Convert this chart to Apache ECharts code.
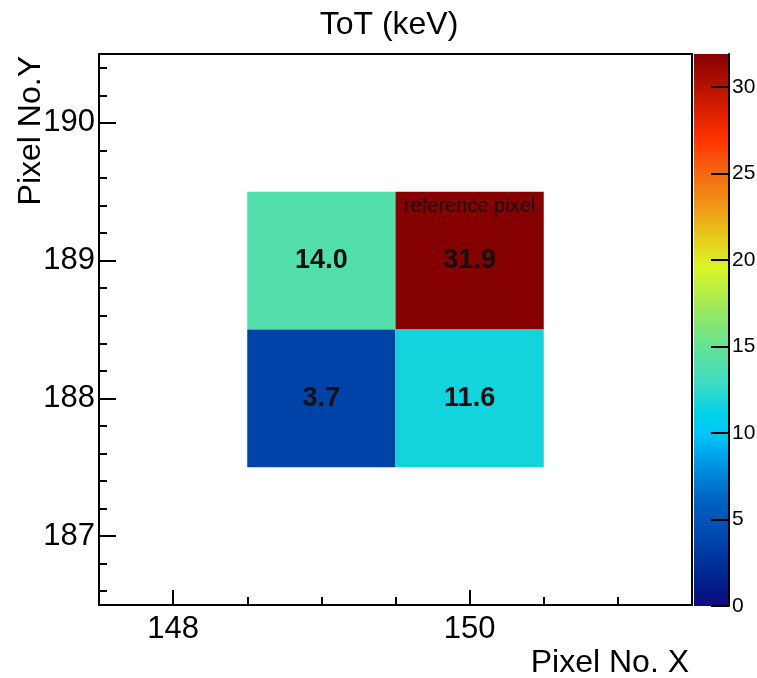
<!DOCTYPE html>
<html>
<head>
<meta charset="utf-8">
<title>ToT (keV)</title>
<script src="https://cdn.jsdelivr.net/npm/echarts@6/dist/echarts.min.js"></script>
<style>
  html, body { margin: 0; padding: 0; background: #ffffff; }
  #chart { width: 757px; height: 678px; }
</style>
</head>
<body>
<div id="chart"></div>
<script>
// Pixel centres (column, row) and the ToT measured in each, in keV
const pixelX = [149, 150, 149, 150];
const pixelY = [189, 189, 188, 188];
const totKeV = [14.0, 31.9, 3.7, 11.6];

// The pixel marked as reference
const referencePixel = [150, 189];
const referenceLabel = 'reference pixel';

// Axis ranges and tick positions
const xRange = [147.5, 151.5];
const yRange = [186.5, 190.5];
const xMajorTicks = [148, 150];
const xMinorTicks = [148.5, 149, 149.5, 150.5, 151];
const yMajorTicks = [187, 188, 189, 190];
const yMinorTicks = [186.6, 186.8, 187.2, 187.4, 187.6, 187.8,
                     188.2, 188.4, 188.6, 188.8, 189.2, 189.4,
                     189.6, 189.8, 190.2, 190.4];

// Colour scale range and its ticks
const zRange = [0, 31.9];
const zTicks = [0, 5, 10, 15, 20, 25, 30];

// Palette: value -> colour stops along the colour scale
const paletteValues = [0, 1.5, 4, 6, 8, 10, 11, 13, 15, 17, 19.5, 21, 23, 25, 27, 29, 31.9];
const paletteColors = ['#0c0c7c', '#00228e', '#0048ac', '#0060c2', '#0090e0', '#00c8fa',
                       '#00d0ea', '#40dcc0', '#64e296', '#98e860', '#d8f528', '#e6d21e',
                       '#ee9a18', '#f46812', '#ff3300', '#d01c00', '#850000'];

const FONT = '"Liberation Sans", Arial, Helvetica, sans-serif';

function hexToRgb(h) {
  return [parseInt(h.slice(1, 3), 16), parseInt(h.slice(3, 5), 16), parseInt(h.slice(5, 7), 16)];
}
function colorAt(v) {
  if (v <= paletteValues[0]) return paletteColors[0];
  const n = paletteValues.length;
  if (v >= paletteValues[n - 1]) return paletteColors[n - 1];
  for (let i = 0; i < n - 1; i++) {
    const a = paletteValues[i], b = paletteValues[i + 1];
    if (v >= a && v <= b) {
      const t = (v - a) / (b - a);
      const ca = hexToRgb(paletteColors[i]), cb = hexToRgb(paletteColors[i + 1]);
      const c = ca.map((x, k) => Math.round(x + (cb[k] - x) * t));
      return 'rgb(' + c.join(',') + ')';
    }
  }
  return paletteColors[n - 1];
}

const cells = pixelX.map((x, i) => [x, pixelY[i], totKeV[i]]);

const colorStops = paletteValues.map((v, i) => ({
  offset: (v - zRange[0]) / (zRange[1] - zRange[0]),
  color: paletteColors[i]
}));

const chart = echarts.init(document.getElementById('chart'), null, { renderer: 'canvas' });

const tickLabelStyle = { color: '#000', fontFamily: FONT, fontSize: 31 };

chart.setOption({
  animation: false,
  backgroundColor: '#ffffff',
  grid: [
    { left: 99, top: 54, width: 593, height: 551, show: true, borderColor: '#000', borderWidth: 2,
      backgroundColor: 'transparent', containLabel: false, outerBoundsMode: 'none' },
    { left: 694, top: 54, width: 35, height: 552, show: false, containLabel: false, outerBoundsMode: 'none' }
  ],
  xAxis: [
    { gridIndex: 0, type: 'value', position: 'bottom', min: xRange[0], max: xRange[1],
      axisLine: { show: false, onZero: false }, splitLine: { show: false },
      axisTick: { show: true, inside: true, length: 15, customValues: xMajorTicks,
                  lineStyle: { color: '#000', width: 2 } },
      axisLabel: { show: true, customValues: xMajorTicks, margin: 9, ...tickLabelStyle } },
    { gridIndex: 0, type: 'value', position: 'bottom', min: xRange[0], max: xRange[1],
      axisLine: { show: false, onZero: false }, splitLine: { show: false },
      axisTick: { show: true, inside: true, length: 8, customValues: xMinorTicks,
                  lineStyle: { color: '#000', width: 2 } },
      axisLabel: { show: false } },
    { gridIndex: 1, type: 'value', min: 0, max: 1, show: false }
  ],
  yAxis: [
    { gridIndex: 0, type: 'value', position: 'left', min: yRange[0], max: yRange[1],
      axisLine: { show: false, onZero: false }, splitLine: { show: false },
      axisTick: { show: true, inside: true, length: 17, customValues: yMajorTicks,
                  lineStyle: { color: '#000', width: 2 } },
      axisLabel: { show: true, customValues: yMajorTicks, margin: 4, ...tickLabelStyle } },
    { gridIndex: 0, type: 'value', position: 'left', min: yRange[0], max: yRange[1],
      axisLine: { show: false, onZero: false }, splitLine: { show: false },
      axisTick: { show: true, inside: true, length: 8, customValues: yMinorTicks,
                  lineStyle: { color: '#000', width: 2 } },
      axisLabel: { show: false } },
    { gridIndex: 1, type: 'value', position: 'right', min: zRange[0], max: zRange[1], z: 10,
      axisLine: { show: true, onZero: false, lineStyle: { color: '#000', width: 2 } },
      splitLine: { show: false },
      axisTick: { show: true, inside: true, length: 18, customValues: zTicks,
                  lineStyle: { color: '#000', width: 2 } },
      axisLabel: { show: true, customValues: zTicks, margin: 3,
                   color: '#000', fontFamily: FONT, fontSize: 21 } }
  ],
  graphic: [
    { type: 'text', x: 389, y: 25, style: { text: 'ToT (keV)', fill: '#000',
      font: '32px ' + FONT, align: 'center', verticalAlign: 'middle' } },
    { type: 'text', x: 689, y: 663, style: { text: 'Pixel No. X', fill: '#000',
      font: '32px ' + FONT, align: 'right', verticalAlign: 'middle' } },
    { type: 'text', x: 31, y: 56, rotation: Math.PI / 2, style: { text: 'Pixel No.Y', fill: '#000',
      font: '32px ' + FONT, align: 'right', verticalAlign: 'middle' } }
  ],
  series: [
    {
      // ToT per pixel, each pixel one unit wide and tall
      type: 'custom',
      xAxisIndex: 0, yAxisIndex: 0,
      data: cells,
      renderItem: function (params, api) {
        const x = api.value(0), y = api.value(1), v = api.value(2);
        const c = api.coord([x, y]);
        const s = api.size([1, 1]);
        return {
          type: 'group',
          children: [
            { type: 'rect',
              shape: { x: c[0] - s[0] / 2, y: c[1] - s[1] / 2, width: s[0], height: s[1] },
              style: { fill: colorAt(v) } },
            { type: 'text', x: c[0], y: c[1],
              style: { text: v.toFixed(1), fill: '#111', font: 'bold 27px ' + FONT,
                       align: 'center', verticalAlign: 'middle' } }
          ]
        };
      }
    },
    {
      // Caption along the top of the reference pixel
      type: 'custom',
      xAxisIndex: 0, yAxisIndex: 0,
      data: [referencePixel],
      renderItem: function (params, api) {
        const top = api.coord([api.value(0), api.value(1) + 0.5]);
        return { type: 'text', x: top[0], y: top[1] + 15,
                 style: { text: referenceLabel, fill: '#111', font: '20px ' + FONT,
                          align: 'center', verticalAlign: 'middle' } };
      }
    },
    {
      // Colour scale bar
      type: 'custom',
      xAxisIndex: 2, yAxisIndex: 2,
      z: -1,
      data: [[0, zRange[0], zRange[1]]],
      renderItem: function (params, api) {
        const p0 = api.coord([0, api.value(1)]);
        const p1 = api.coord([1, api.value(2)]);
        return { type: 'rect',
                 shape: { x: p0[0], y: p1[1], width: p1[0] - p0[0], height: p0[1] - p1[1] },
                 style: { fill: new echarts.graphic.LinearGradient(0, 1, 0, 0, colorStops) } };
      }
    }
  ]
});
</script>
</body>
</html>
